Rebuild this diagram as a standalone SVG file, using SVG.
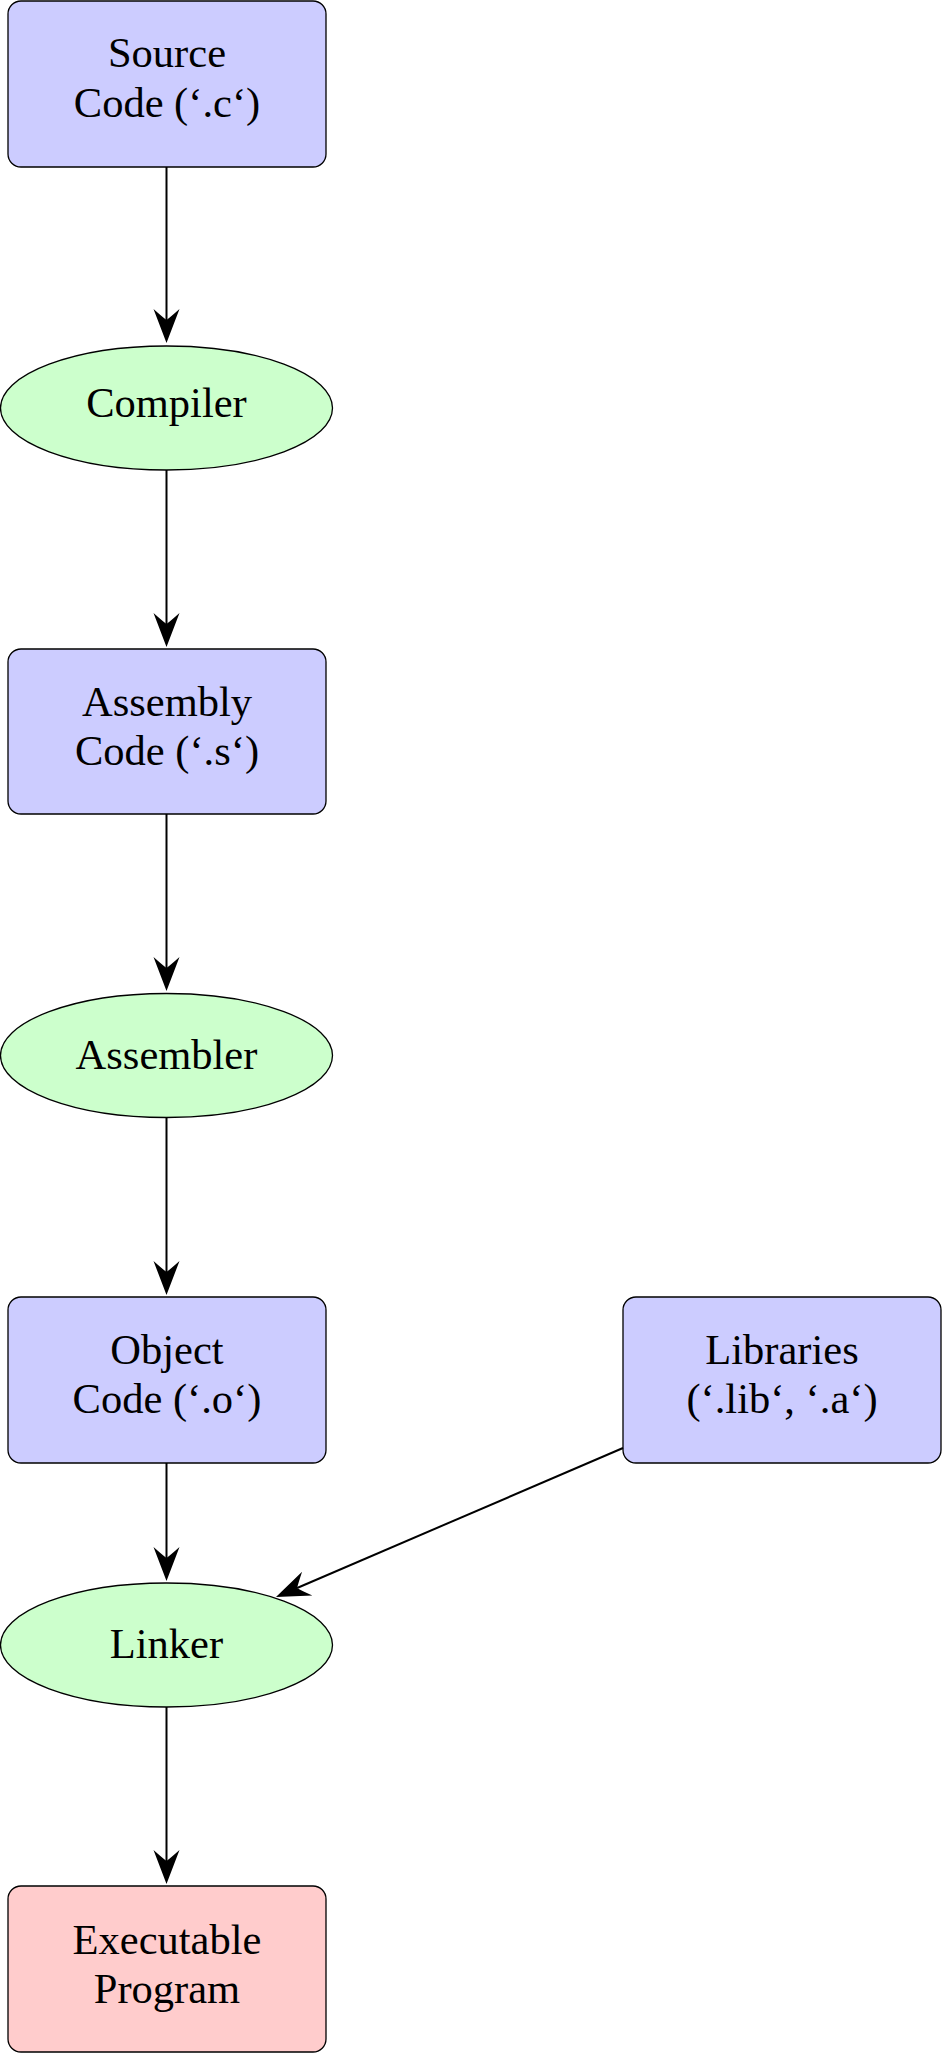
<svg xmlns="http://www.w3.org/2000/svg" width="942" height="2053" viewBox="0 0 942 2053">
<style>
.box{stroke:#000;stroke-width:1.3}
.blue{fill:#ccccff}
.green{fill:#ccffcc}
.red{fill:#ffcccc}
.lbl{font-family:"Liberation Serif","Times New Roman",serif;font-size:42.5px;fill:#000;text-anchor:middle}
.edge{stroke:#000;stroke-width:2;fill:none;marker-end:url(#arr)}
</style>
<defs>
<marker id="arr" markerUnits="userSpaceOnUse" markerWidth="40" markerHeight="30" viewBox="0 -15 40 30" refX="11" refY="0" orient="auto" overflow="visible">
<path d="M34,0 L0,-13 Q8,-4 11,0 Q8,4 0,13 Z" fill="#000"/>
</marker>
</defs>
<rect width="942" height="2053" fill="#fff"/>
<g id="source">
<rect class="box blue" x="8" y="1" width="318" height="166" rx="13"/>
<text class="lbl" x="167" y="67">Source</text>
<text class="lbl" x="167" y="117">Code (‘.c‘)</text>
</g>
<g id="compiler">
<ellipse class="box green" cx="166.5" cy="408" rx="166" ry="62"/>
<text class="lbl" x="166.5" y="417">Compiler</text>
</g>
<g id="assembly">
<rect class="box blue" x="8" y="649" width="318" height="165" rx="13"/>
<text class="lbl" x="167" y="716">Assembly</text>
<text class="lbl" x="167" y="765">Code (‘.s‘)</text>
</g>
<g id="assembler">
<ellipse class="box green" cx="166.5" cy="1055.5" rx="166" ry="62"/>
<text class="lbl" x="166.5" y="1069">Assembler</text>
</g>
<g id="object">
<rect class="box blue" x="8" y="1297" width="318" height="166" rx="13"/>
<text class="lbl" x="167" y="1364">Object</text>
<text class="lbl" x="167" y="1413">Code (‘.o‘)</text>
</g>
<g id="libraries">
<rect class="box blue" x="623" y="1297" width="318" height="166" rx="13"/>
<text class="lbl" x="782" y="1364">Libraries</text>
<text class="lbl" x="782" y="1413">(‘.lib‘, ‘.a‘)</text>
</g>
<g id="linker">
<ellipse class="box green" cx="166.5" cy="1645" rx="166" ry="62"/>
<text class="lbl" x="166.5" y="1658">Linker</text>
</g>
<g id="executable">
<rect class="box red" x="8" y="1886" width="318" height="166" rx="13"/>
<text class="lbl" x="167" y="1954">Executable</text>
<text class="lbl" x="167" y="2003">Program</text>
</g>
<g id="connectors">
<line class="edge" x1="166.5" y1="167" x2="166.5" y2="320"/>
<line class="edge" x1="166.5" y1="470" x2="166.5" y2="624"/>
<line class="edge" x1="166.5" y1="814" x2="166.5" y2="968"/>
<line class="edge" x1="166.5" y1="1118" x2="166.5" y2="1272"/>
<line class="edge" x1="166.5" y1="1463" x2="166.5" y2="1558"/>
<line class="edge" x1="166.5" y1="1707" x2="166.5" y2="1861"/>
<line class="edge" x1="623" y1="1448" x2="297.1" y2="1588"/>
</g>
</svg>
